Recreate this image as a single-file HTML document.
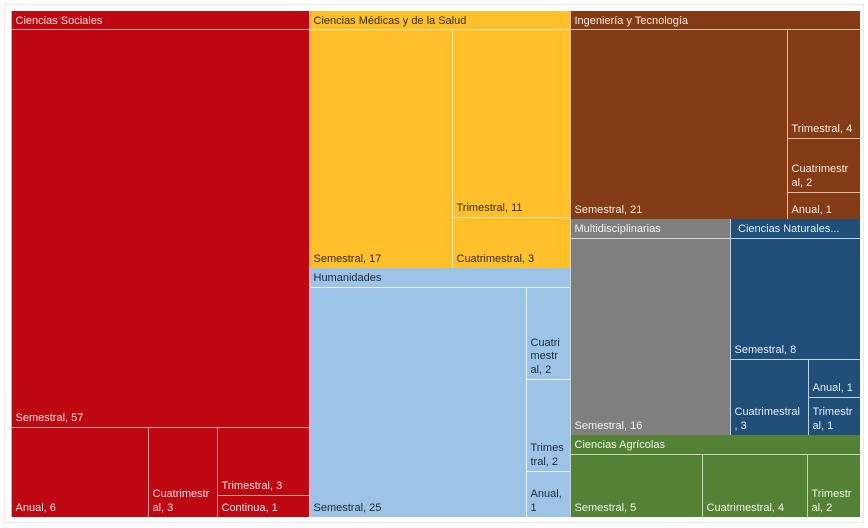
<!DOCTYPE html>
<html lang="es">
<head>
<meta charset="utf-8">
<title>Treemap</title>
<style>
  html, body { margin: 0; padding: 0; background: #fff; }
  body { width: 868px; height: 528px; overflow: hidden; position: relative; font-family: "Liberation Sans", sans-serif; }
  #frame { position: absolute; left: 4px; top: 4px; width: 860px; height: 519px; border: 1px solid #e7e9ec; box-sizing: border-box; }
  #chart { position: absolute; left: 0; top: 0; width: 868px; height: 528px; }
  .group, .leaf, .header { position: absolute; box-sizing: border-box; }
  .leaf { display: flex; align-items: flex-end; border-top: 1px solid var(--line); border-left: 1px solid var(--line); padding: 0 6.5px 2px 3.5px; }
  .header { border-left: 1px solid var(--line); padding: 4px 0 0 3.5px; font-size: 11px; line-height: 13.5px; white-space: nowrap; overflow: hidden; }
  .leaf span { display: block; width: 100%; font-size: 11px; line-height: 13.5px; overflow-wrap: anywhere; }
</style>
</head>
<body>
<div id="frame"></div>
<div id="chart"></div>
<script>
const groupNames = ["Ciencias Sociales", "Ciencias Médicas y de la Salud", "Ingeniería y Tecnología", "Humanidades", "Multidisciplinarias", "Ciencias Naturales...", "Ciencias Agrícolas"];
const groupColors = ["#BF0712", "#FFC02A", "#843C14", "#9DC3E6", "#7F7F7F", "#1F4E79", "#548235"];
const groupInk = ["#f6e4e4", "#33291a", "#f6ece4", "#1c2b3a", "#f2f2f2", "#e6eef6", "#eef4e8"];
const groupLines = ["#ef9da0", "#ffe7ad", "#d9bca8", "#e4effa", "#d4d4d4", "#bcd0e2", "#c6d8b8"];

const socialesCategories = ["Semestral", "Anual", "Cuatrimestral", "Trimestral", "Continua"];
const socialesValues = [57, 6, 3, 3, 1];
const medicasCategories = ["Semestral", "Trimestral", "Cuatrimestral"];
const medicasValues = [17, 11, 3];
const ingenieriaCategories = ["Semestral", "Trimestral", "Cuatrimestral", "Anual"];
const ingenieriaValues = [21, 4, 2, 1];
const humanidadesCategories = ["Semestral", "Cuatri\u200bmestr\u200bal", "Trimestral", "Anual"];
const humanidadesValues = [25, 2, 2, 1];
const multiCategories = ["Semestral"];
const multiValues = [16];
const naturalesCategories = ["Semestral", "Cuatrimestral", "Anual", "Trimestral"];
const naturalesValues = [8, 3, 1, 1];
const agricolasCategories = ["Semestral", "Cuatrimestral", "Trimestral"];
const agricolasValues = [5, 4, 2];

const groupCategories = [socialesCategories, medicasCategories, ingenieriaCategories, humanidadesCategories, multiCategories, naturalesCategories, agricolasCategories];
const groupValues = [socialesValues, medicasValues, ingenieriaValues, humanidadesValues, multiValues, naturalesValues, agricolasValues];

/* Slice-and-dice nesting only: "h" splits left to right, "v" splits top to bottom, numbers index the arrays above. */
const groupNesting = ["h", 0, ["v", 1, 3], ["v", 2, ["h", 4, 5], 6]];
const leafNesting = [
  ["v", 0, ["h", 1, 2, ["v", 3, 4]]],
  ["h", 0, ["v", 1, 2]],
  ["h", 0, ["v", 1, 2, 3]],
  ["h", 0, ["v", 1, 2, 3]],
  ["h", 0],
  ["v", 0, ["h", 1, ["v", 2, 3]]],
  ["h", 0, 1, 2]
];

const plot = { left: 10.6, top: 10.8, right: 859.8, bottom: 517.4 };
const headerHeight = 18.5;
const chart = document.getElementById("chart");

function sum(list) {
  return list.reduce(function (a, b) { return a + b; }, 0);
}
function weigh(node, weights) {
  if (typeof node === "number") return weights[node];
  return sum(node.slice(1).map(function (child) { return weigh(child, weights); }));
}
function slice(node, box, weights, draw) {
  if (typeof node === "number") { draw(node, box); return; }
  const total = weigh(node, weights);
  let cursor = node[0] === "h" ? box.x0 : box.y0;
  const extent = node[0] === "h" ? box.x1 - box.x0 : box.y1 - box.y0;
  node.slice(1).forEach(function (child) {
    const next = cursor + extent * weigh(child, weights) / total;
    const sub = node[0] === "h"
      ? { x0: cursor, x1: next, y0: box.y0, y1: box.y1 }
      : { x0: box.x0, x1: box.x1, y0: cursor, y1: next };
    slice(child, sub, weights, draw);
    cursor = next;
  });
}
function place(el, box) {
  const l = Math.round(box.x0), t = Math.round(box.y0);
  el.style.left = l + "px";
  el.style.top = t + "px";
  el.style.width = (Math.round(box.x1) - l) + "px";
  el.style.height = (Math.round(box.y1) - t) + "px";
}

const groupTotals = groupValues.map(sum);
slice(groupNesting, { x0: plot.left, x1: plot.right, y0: plot.top, y1: plot.bottom }, groupTotals, function (g, box) {
  const region = document.createElement("div");
  
  
  region.className = "group";
  region.style.background = groupColors[g];
  region.style.setProperty("--line", groupLines[g]);
  region.style.color = groupInk[g];
  place(region, box);
  chart.appendChild(region);

  const ox = Math.round(box.x0), oy = Math.round(box.y0);

  const inner = { x0: box.x0, x1: box.x1, y0: box.y0 + headerHeight, y1: box.y1 };
  slice(leafNesting[g], inner, groupValues[g], function (i, cell) {
    const leaf = document.createElement("div");
    
    
    leaf.className = "leaf";
    if (g === 3) leaf.style.paddingRight = "4.5px";
    place(leaf, { x0: cell.x0 - ox, x1: cell.x1 - ox, y0: cell.y0 - oy, y1: cell.y1 - oy });
    const label = document.createElement("span");
    
    
    label.textContent = groupCategories[g][i] + ", " + groupValues[g][i];
    leaf.appendChild(label);
    region.appendChild(leaf);
  });

  const header = document.createElement("div");
  
  
  header.className = "header";
  header.textContent = groupNames[g];
  if (groupNames[g].slice(-3) === "...") header.style.paddingLeft = "7px";
  place(header, { x0: 0, y0: 0, x1: box.x1 - box.x0, y1: headerHeight });
  region.appendChild(header);
});
</script>
</body>
</html>
